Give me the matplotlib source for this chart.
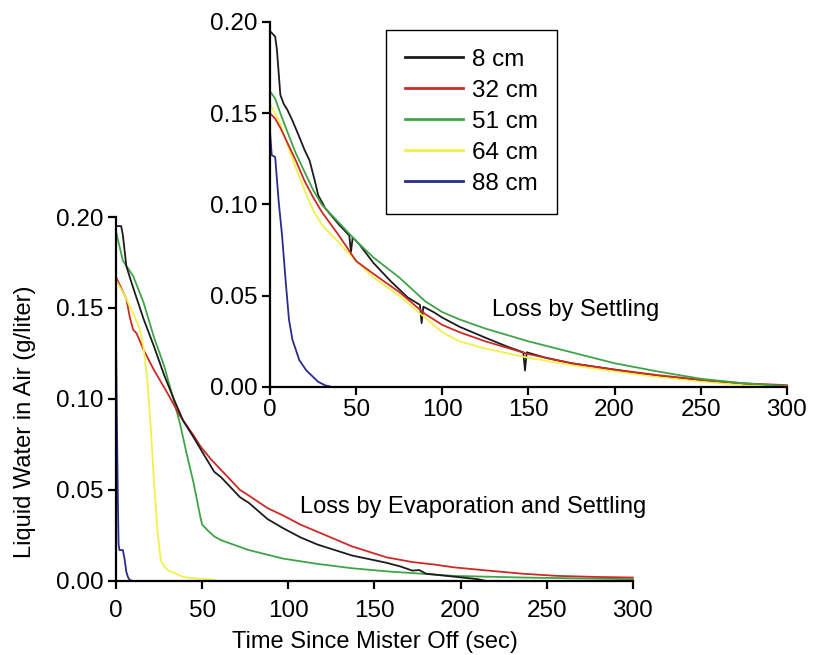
import matplotlib
matplotlib.use("Agg")
import matplotlib.pyplot as plt

plt.rcParams['font.family'] = ['Liberation Sans', 'DejaVu Sans']

# colours of the five heights
c_8 = '#1c1c1c'
c_32 = '#cc2a26'
c_51 = '#3fa447'
c_64 = '#f2f04a'
c_88 = '#2c2a8c'

labels = ['8 cm', '32 cm', '51 cm', '64 cm', '88 cm']

# main plot: loss by evaporation and settling
ev_t_8 = [0, 3, 4, 6, 10, 16, 22, 28, 34, 39, 45, 50, 57, 61, 66, 72, 77, 88, 97, 107,
          117, 127, 137, 147, 157, 165, 172, 176, 180, 190, 200, 210, 215]
ev_v_8 = [0.195, 0.195, 0.19, 0.173, 0.161, 0.144, 0.129, 0.113, 0.099, 0.088, 0.079,
          0.071, 0.060, 0.057, 0.052, 0.046, 0.043, 0.034, 0.029, 0.024, 0.020, 0.017,
          0.014, 0.012, 0.010, 0.008, 0.0057, 0.006, 0.004, 0.003, 0.002, 0.001, 0.0]

ev_t_32 = [0, 2, 6, 8, 10, 12, 16, 22, 30, 37, 45, 49, 55, 61, 72, 77, 88, 97, 107, 117,
           127, 137, 147, 157, 172, 185, 196, 216, 236, 256, 280, 300]
ev_v_32 = [0.167, 0.163, 0.155, 0.145, 0.138, 0.136, 0.127, 0.116, 0.103, 0.091, 0.080,
           0.074, 0.067, 0.061, 0.050, 0.047, 0.040, 0.036, 0.031, 0.027, 0.023, 0.019,
           0.016, 0.013, 0.0104, 0.009, 0.0075, 0.0057, 0.004, 0.0028, 0.0022, 0.0019]

ev_t_51 = [0, 4, 10, 16, 22, 28, 33, 37, 41, 45, 49, 50, 53, 57, 61, 77, 97, 117, 137,
           157, 196, 236, 300]
ev_v_51 = [0.192, 0.176, 0.1675, 0.153, 0.134, 0.118, 0.101, 0.087, 0.070, 0.054, 0.035,
           0.031, 0.028, 0.0245, 0.0224, 0.017, 0.0123, 0.0094, 0.007, 0.0053, 0.0028,
           0.0019, 0.001]

ev_t_64 = [0, 5, 10, 14, 16, 18, 20, 22, 24, 26, 28, 30, 35, 39, 45, 57, 58]
ev_v_64 = [0.165, 0.157, 0.147, 0.138, 0.128, 0.1125, 0.087, 0.0555, 0.028, 0.0114,
           0.008, 0.006, 0.004, 0.0022, 0.0015, 0.0007, 0.0]

ev_t_88 = [0, 0.5, 1, 1.5, 2, 4, 5, 6, 7, 8, 10]
ev_v_88 = [0.135, 0.09, 0.05, 0.02, 0.017, 0.017, 0.012, 0.005, 0.002, 0.0005, 0.0]

# inset: loss by settling
st_t_8 = [0, 3, 4, 6, 8, 10, 13, 17, 20, 22, 23, 26, 28, 32, 40, 46, 47, 48, 52, 60, 70,
          80, 87, 88, 89, 95, 100, 110, 125, 138, 147, 148, 149, 160, 175, 200, 225, 250,
          275, 300]
st_v_8 = [0.195, 0.192, 0.185, 0.160, 0.155, 0.152, 0.146, 0.137, 0.130, 0.126, 0.124,
          0.113, 0.105, 0.098, 0.089, 0.083, 0.074, 0.082, 0.078, 0.068, 0.058, 0.049,
          0.045, 0.035, 0.044, 0.041, 0.038, 0.033, 0.027, 0.022, 0.019, 0.009, 0.019,
          0.016, 0.013, 0.0095, 0.006, 0.0035, 0.0015, 0.0005]

st_t = [0, 3, 6, 10, 15, 20, 25, 30, 40, 50, 60, 75, 90, 100, 110, 125, 150, 175, 200,
        225, 250, 275, 300]
st_v_32 = [0.150, 0.147, 0.142, 0.134, 0.124, 0.113, 0.104, 0.096, 0.083, 0.069, 0.062,
           0.052, 0.040, 0.034, 0.030, 0.025, 0.018, 0.013, 0.0095, 0.0065, 0.004, 0.002,
           0.001]
st_v_51 = [0.162, 0.158, 0.150, 0.140, 0.128, 0.118, 0.108, 0.100, 0.090, 0.080, 0.071,
           0.060, 0.047, 0.041, 0.037, 0.032, 0.025, 0.019, 0.013, 0.0085, 0.0045, 0.002,
           0.0005]
st_v_64 = [0.155, 0.150, 0.144, 0.133, 0.120, 0.108, 0.097, 0.089, 0.079, 0.069, 0.060,
           0.050, 0.038, 0.030, 0.025, 0.021, 0.016, 0.012, 0.0085, 0.0055, 0.003, 0.001,
           0.0]

st_t_88 = [0, 1, 3, 5, 7, 9, 11, 13, 17, 21, 25, 28, 32, 36, 150]
st_v_88 = [0.140, 0.127, 0.126, 0.102, 0.083, 0.059, 0.037, 0.026, 0.0147, 0.0092, 0.0055,
           0.0028, 0.0009, 0.0, 0.0]

xticks = [0, 50, 100, 150, 200, 250, 300]
yticks = [0.00, 0.05, 0.10, 0.15, 0.20]

fs = 17.5
lw = 1.3


def style_axes(ax):
    ax.set_xlim(0, 300)
    ax.set_ylim(0, 0.2)
    ax.set_xticks(xticks)
    ax.set_yticks(yticks)
    ax.set_yticklabels([f"{v:.2f}" for v in yticks])
    ax.spines['top'].set_visible(False)
    ax.spines['right'].set_visible(False)
    for s in ['left', 'bottom']:
        ax.spines[s].set_linewidth(1.6)
    ax.tick_params(direction='out', length=6, width=1.6, labelsize=fs, pad=3)
    ax.set_facecolor('none')


fig = plt.figure(figsize=(8.14, 6.55), dpi=100)
ax = fig.add_axes([0.1425, 0.113, 0.635, 0.5557])
axi = fig.add_axes([0.3317, 0.4092, 0.635, 0.5573])

ax.plot(ev_t_51, ev_v_51, color=c_51, lw=lw, clip_on=False)
ax.plot(ev_t_32, ev_v_32, color=c_32, lw=lw, clip_on=False)
ax.plot(ev_t_8, ev_v_8, color=c_8, lw=lw, clip_on=False)
ax.plot(ev_t_64, ev_v_64, color=c_64, lw=lw, clip_on=False)
ax.plot(ev_t_88, ev_v_88, color=c_88, lw=lw, clip_on=False)
style_axes(ax)
ax.tick_params(axis='x', pad=8)
ax.set_xlabel("Time Since Mister Off (sec)", fontsize=17, labelpad=6)
ax.set_ylabel("Liquid Water in Air (g/liter)", fontsize=17)
ax.yaxis.set_label_coords(-0.155, 0.437)
ax.text(107, 0.0405, "Loss by Evaporation and Settling", fontsize=17,
        va='center', ha='left')

l8, = axi.plot(st_t_8, st_v_8, color=c_8, lw=lw, clip_on=False)
l64, = axi.plot(st_t, st_v_64, color=c_64, lw=lw, clip_on=False)
l32, = axi.plot(st_t, st_v_32, color=c_32, lw=lw, clip_on=False)
l51, = axi.plot(st_t, st_v_51, color=c_51, lw=lw, clip_on=False)
l88, = axi.plot(st_t_88, st_v_88, color=c_88, lw=lw, clip_on=False)
style_axes(axi)
axi.text(129, 0.042, "Loss by Settling", fontsize=17, va='center', ha='left')

leg = axi.legend([l8, l32, l51, l64, l88], labels, loc='upper left',
                 bbox_to_anchor=(0.224, 0.978), borderaxespad=0, fontsize=fs,
                 handlelength=2.4, handletextpad=0.37, labelspacing=0.37,
                 borderpad=0.78, fancybox=False, framealpha=1, edgecolor='black')
leg.get_frame().set_linewidth(1.0)
for h in leg.get_lines():
    h.set_linewidth(2.0)

fig.savefig("out.png", dpi=100)
